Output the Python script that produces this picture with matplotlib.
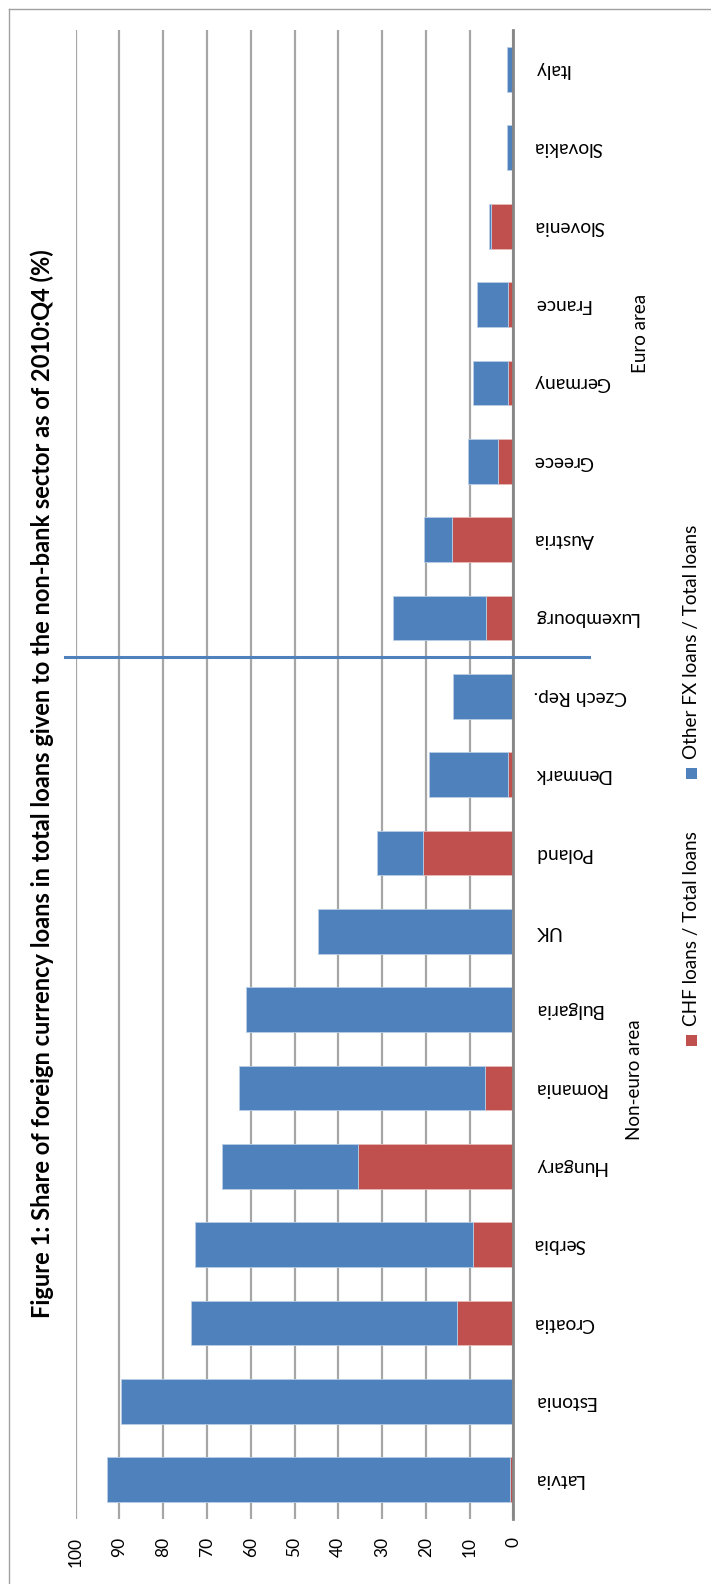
import matplotlib
matplotlib.use("Agg")
import matplotlib.pyplot as plt
from matplotlib.patches import Rectangle
from matplotlib.lines import Line2D
from matplotlib.transforms import blended_transform_factory

plt.rcParams['font.family'] = ['Lato', 'DejaVu Sans']

# Data: share of foreign currency loans in total loans (%), 2010:Q4
countries = ["Latvia", "Estonia", "Croatia", "Serbia", "Hungary", "Romania",
             "Bulgaria", "UK", "Poland", "Denmark", "Czech Rep.", "Luxembourg",
             "Austria", "Greece", "Germany", "France", "Slovenia", "Slovakia", "Italy"]
chf_share = [0.7, 0.0, 12.9, 9.1, 35.4, 6.5, 0.4, 0.4, 20.6, 1.1, 0.0, 6.2,
             14.0, 3.4, 1.1, 1.1, 5.0, 0.0, 0.0]
other_fx_share = [92.1, 89.6, 60.8, 63.7, 31.1, 56.1, 60.7, 44.2, 10.6, 18.2, 13.7, 21.4,
                  6.3, 7.0, 8.0, 7.2, 0.5, 1.5, 1.4]
value_ticks = [0, 10, 20, 30, 40, 50, 60, 70, 80, 90, 100]
series_names = ["CHF loans / Total loans", "Other FX loans / Total loans"]
group_names = ["Non-euro area", "Euro area"]
title = "Figure 1: Share of foreign currency loans in total loans given to the non-bank sector as of 2010:Q4 (%)"

W, H = 711, 1584
RED = "#C0504D"
BLUE = "#4F81BD"
GRID = "#A6A6A6"


def fx(x):
    return x / W


def fy(y):
    return 1 - y / H


fig = plt.figure(figsize=(W / 100, H / 100), dpi=100)
fig.patch.set_facecolor("white")

# plot area (pixel coordinates of the rotated layout)
left, right, top, bottom = 75.7, 513.3, 30.3, 1519.0
ax = fig.add_axes([fx(left), fy(bottom), fx(right - left), (bottom - top) / H])

pos = list(range(len(countries)))
bar_h = 0.57
ax.barh(pos, chf_share, height=bar_h, color=RED, edgecolor="#E6B9B8",
        linewidth=0.6, zorder=3)
ax.barh(pos, other_fx_share, left=chf_share, height=bar_h, color=BLUE,
        edgecolor="#B9CDE5", linewidth=0.6, zorder=3)

ax.set_xlim(100, 0)
ax.set_ylim(-0.5, len(countries) - 0.5)

ax.set_xticks(value_ticks)
ax.set_xticklabels([str(v) for v in value_ticks], rotation=90, fontsize=12.5)
ax.xaxis.grid(True, color=GRID, linewidth=1.6, zorder=0)
ax.tick_params(axis="x", length=0, pad=13)

ax.yaxis.tick_right()
ax.set_yticks(pos)
ax.set_yticklabels(countries, rotation=180, fontsize=13.8, va="center")
ax.tick_params(axis="y", length=0, pad=14.5)

for s in ["left", "top", "bottom"]:
    ax.spines[s].set_visible(False)
ax.spines["right"].set_color("#868686")
ax.spines["right"].set_linewidth(2.0)
ax.spines["right"].set_zorder(4)

# separator between non-euro and euro area countries
sep_tr = blended_transform_factory(fig.transFigure, ax.transData)
ax.plot([fx(65), fx(416)], [10.5, 10.5], color=BLUE, lw=2.2, transform=sep_tr,
        clip_on=False, zorder=5)
ax.plot([fx(418.5), fx(589)], [10.5, 10.5], color=BLUE, lw=2.2, transform=sep_tr,
        clip_on=False, zorder=5)

# title
fig.text(fx(42.5), fy(784), title, rotation=90, ha="center", va="center",
         fontsize=17, fontweight="bold")

# group labels
fig.text(fx(635), fy(1080), group_names[0], rotation=90, ha="center", va="center",
         fontsize=13.5)
fig.text(fx(640), fy(333), group_names[1], rotation=90, ha="center", va="center",
         fontsize=13.5)

# legend
sq = 11
for (cy, ty, col, name) in [(1040, 1026, RED, series_names[0]),
                            (773, 759, BLUE, series_names[1])]:
    fig.patches.append(Rectangle((fx(691 - sq / 2), fy(cy + sq / 2)), sq / W, sq / H,
                                 transform=fig.transFigure, facecolor=col,
                                 edgecolor="none"))
    fig.text(fx(691), fy(ty), name, rotation=90, ha="center", va="bottom",
             fontsize=13.6)

# outer frame
fig.add_artist(Line2D([fx(9), fx(9)], [0, fy(9)], color="#A0A0A0", lw=1.0,
                      transform=fig.transFigure))
fig.add_artist(Line2D([fx(9), 1], [fy(9), fy(9)], color="#A0A0A0", lw=1.0,
                      transform=fig.transFigure))

fig.savefig("out.png", dpi=100, facecolor="white")
